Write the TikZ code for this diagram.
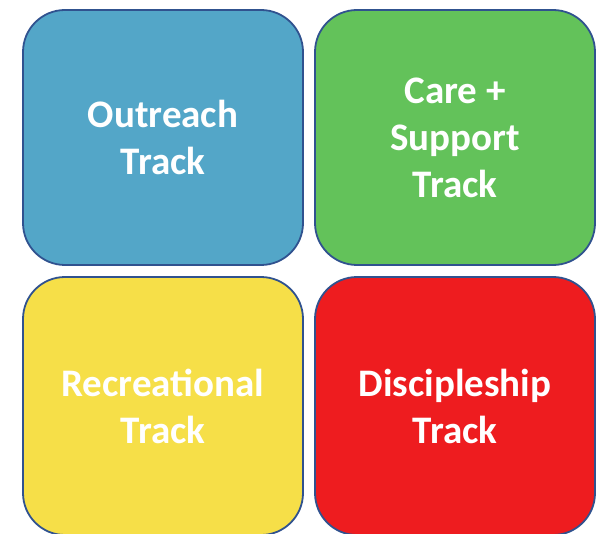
\documentclass[tikz,border=0pt]{standalone}
\usepackage{fontspec}
\setmainfont{Carlito}
\usetikzlibrary{positioning}
\definecolor{outreachBlue}{HTML}{53A6C8}
\definecolor{careGreen}{HTML}{63C25A}
\definecolor{recYellow}{HTML}{F6DF48}
\definecolor{discRed}{HTML}{EE1C1F}
\definecolor{trackBorder}{HTML}{30528F}
\tikzset{
    track/.style = {draw=trackBorder, line width=1.8pt, rounded corners=42pt,
        minimum width=280pt, minimum height=255pt, inner sep=0pt,
        align=center, text=white,
        font=\fontsize{39}{47}\selectfont\bfseries},
}

\begin{document}
\begin{tikzpicture}[x=1pt, y=1pt, node distance=10.2pt]
	\useasboundingbox (0,0) rectangle (596,-534);
	
	% the four tracks
	\node (outreach) [track, fill=outreachBlue, anchor=north west] at (22.1,-9.1) {Outreach\\Track};
	\node (care) [track, fill=careGreen, right=of outreach] {Care +\\Support\\Track};
	\node (recreation) [track, fill=recYellow, minimum height=258pt, below=of outreach] {Recreational\\Track};
	\node (discipleship) [track, fill=discRed, minimum height=258pt, right=of recreation] {Discipleship\\Track};
	
\end{tikzpicture}
\end{document}
